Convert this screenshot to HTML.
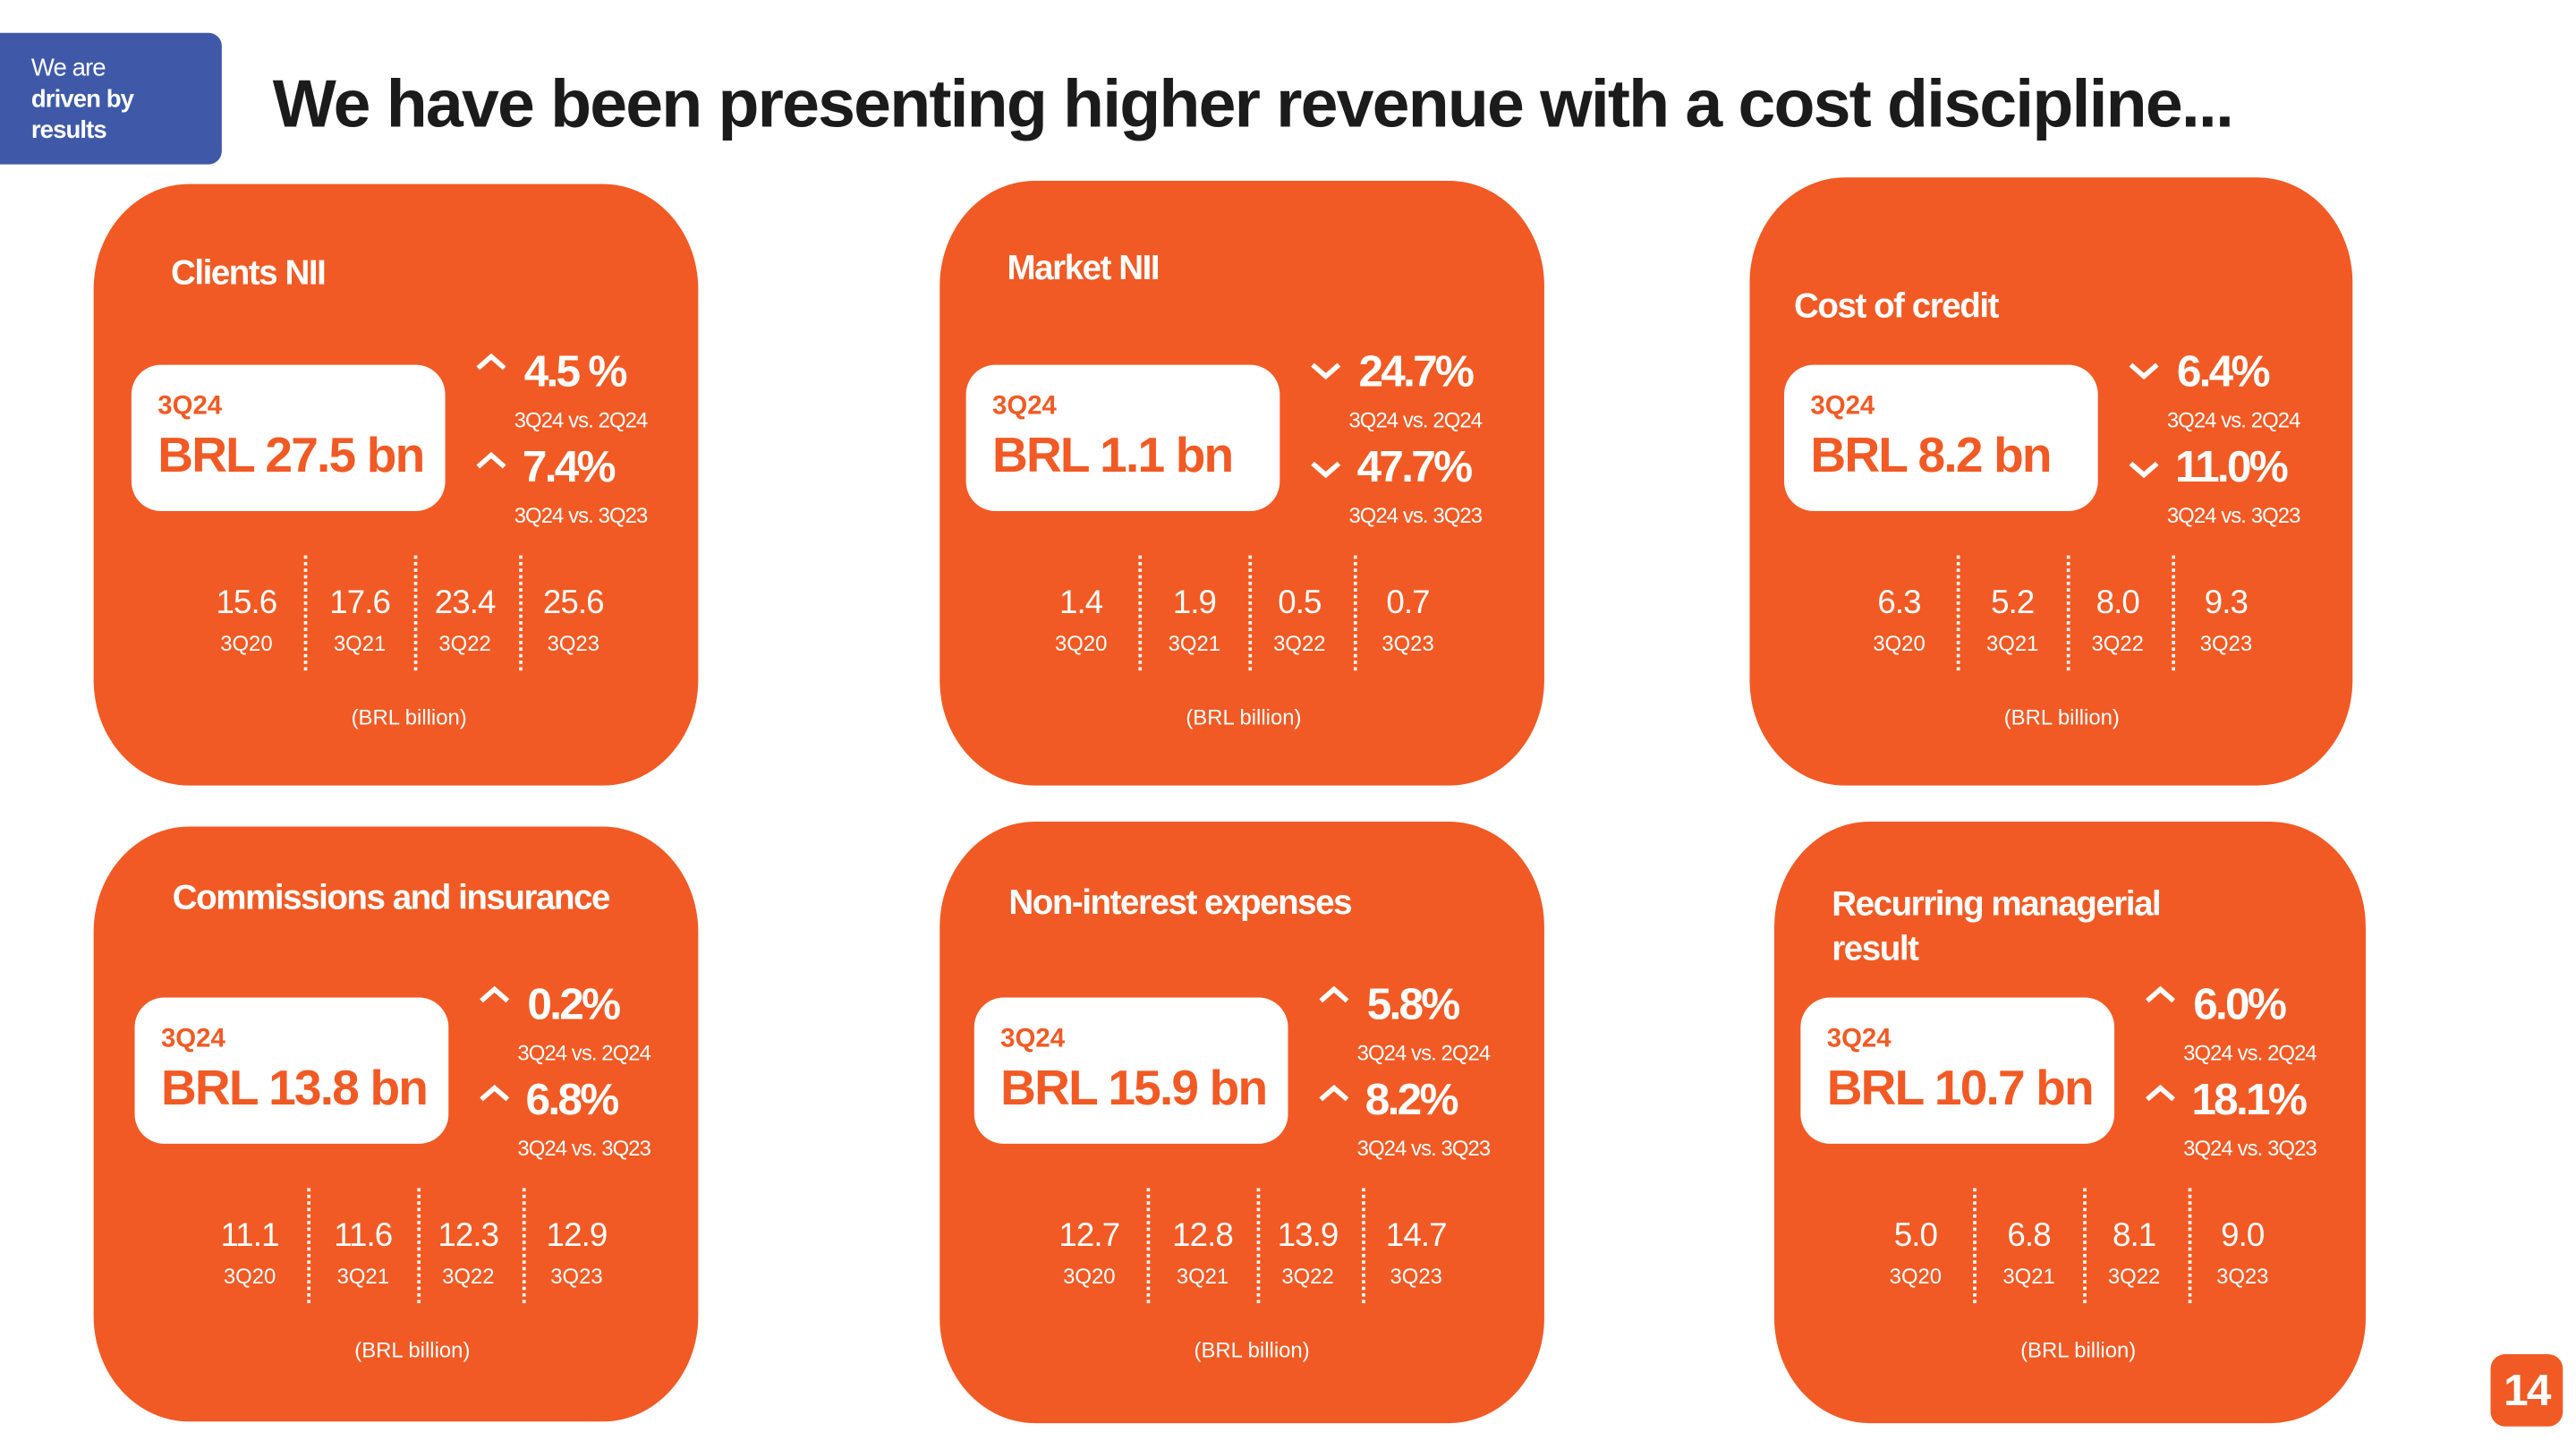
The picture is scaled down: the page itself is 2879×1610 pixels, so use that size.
<!DOCTYPE html>
<html><head><meta charset="utf-8">
<style>
html,body{margin:0;padding:0;background:#fff;}
body{width:2879px;height:1610px;overflow:hidden;position:relative;font-family:"Liberation Sans",sans-serif;}
#stage{position:absolute;left:0;top:0;width:1568px;height:877px;transform:scale(1.8361);transform-origin:0 0;}
.abs{position:absolute;white-space:nowrap;}
.card{position:absolute;background:#F15A24;border-radius:58px/64px;}
.title{position:absolute;color:#fff;font-weight:bold;font-size:21px;letter-spacing:-0.8px;line-height:27px;}
.box{position:absolute;width:191px;height:89px;background:#fff;border-radius:18px;}
.q{position:absolute;left:16px;top:17px;color:#F15A24;font-weight:bold;font-size:16px;}
.big{position:absolute;left:16px;top:39px;color:#F15A24;font-weight:bold;font-size:30px;letter-spacing:-1px;}
.pct{position:absolute;color:#fff;font-weight:bold;font-size:27px;letter-spacing:-1.5px;}
.sub{position:absolute;color:#fff;font-size:13px;letter-spacing:-0.5px;}
.val{position:absolute;color:#fff;font-size:20px;width:70px;text-align:center;letter-spacing:-0.5px;}
.lab{position:absolute;color:#fff;font-size:13px;width:70px;text-align:center;}
.sep{position:absolute;width:0;border-left:2px dotted #fff;height:70px;}
.unit{position:absolute;color:#fff;font-size:13px;width:120px;text-align:center;}
</style></head>
<body>
<div id="stage">
  <div class="abs" style="left:0;top:20px;width:135px;height:80px;background:#3F59A8;border-radius:0 8px 8px 0;">
    <div class="abs" style="left:19px;top:12px;color:#fff;font-size:15px;line-height:19px;letter-spacing:-0.5px;">We are<br><b>driven by<br>results</b></div>
  </div>
  <div class="abs" style="left:166px;top:40px;font-size:41px;font-weight:bold;color:#1b1b1b;letter-spacing:-1px;">We have been presenting higher revenue with a cost discipline...</div>
  <div class="abs" style="left:1516px;top:824px;width:44px;height:44px;background:#F15A24;border-radius:9px;color:#fff;font-weight:bold;font-size:27px;text-align:center;line-height:44px;letter-spacing:-1px;">14</div>
</div>
<script>
const titles = ["Clients NII","Market NII","Cost of credit","Commissions and insurance","Non-interest expenses","Recurring managerial<br>result"];
const currentValues = ["BRL 27.5 bn","BRL 1.1 bn","BRL 8.2 bn","BRL 13.8 bn","BRL 15.9 bn","BRL 10.7 bn"];
const qoqChange = ["4.5 %","24.7%","6.4%","0.2%","5.8%","6.0%"];
const yoyChange = ["7.4%","47.7%","11.0%","6.8%","8.2%","18.1%"];
const direction = ["up","down","down","up","up","up"];
const periods = ["3Q20","3Q21","3Q22","3Q23"];
const history = [
  ["15.6","17.6","23.4","25.6"],
  ["1.4","1.9","0.5","0.7"],
  ["6.3","5.2","8.0","9.3"],
  ["11.1","11.6","12.3","12.9"],
  ["12.7","12.8","13.9","14.7"],
  ["5.0","6.8","8.1","9.0"]
];
const cardNames = ["clients-nii","market-nii","cost-of-credit","commissions-insurance","non-interest-expenses","recurring-managerial-result"];

// layout (not data)
const cardGeo = [[57,112,368,366],[572,110,368,368],[1065,108,367,370],[57,503,368,362],[572,500,368,366],[1080,500,360,366]];
const titleGeo = [[104,153],[613,150],[1092,173],[105,533],[614,536],[1115,537]];
const boxGeo = [[80,222],[588,222],[1086,222],[82,607],[593,607],[1096,607]];
const colOff = [70,139,203,269];
const sepOff = [105,172,236];

const stage = document.getElementById('stage');
function mk(cls, parent){const e=document.createElement('div');e.className=cls;parent.appendChild(e);return e;}
function caret(x,y,dir){
  const ns='http://www.w3.org/2000/svg';
  const s=document.createElementNS(ns,'svg');
  s.setAttribute('width','20');s.setAttribute('height','12');
  s.style.position='absolute';s.style.left=x+'px';s.style.top=y+'px';
  const p=document.createElementNS(ns,'path');
  p.setAttribute('d',dir==='up'?'M2 10 L10 3 L18 10':'M2 2 L10 9 L18 2');
  p.setAttribute('stroke','#fff');p.setAttribute('stroke-width','3');p.setAttribute('fill','none');
  s.appendChild(p);stage.appendChild(s);
  return s;
}
for(let i=0;i<6;i++){
  const [cx,cy,cw,ch]=cardGeo[i];
  const c=mk('card',stage);
  
  
  c.style.left=cx+'px';c.style.top=cy+'px';c.style.width=cw+'px';c.style.height=ch+'px';
  const t=mk('title',stage);
  
  
  t.innerHTML=titles[i];t.style.left=titleGeo[i][0]+'px';t.style.top=titleGeo[i][1]+'px';
  const [bx,by]=boxGeo[i];
  const b=mk('box',stage);
  
  
  b.style.left=bx+'px';b.style.top=by+'px';
  const q=mk('q',b);q.textContent='3Q24';
  const v=mk('big',b);
  
  
  v.textContent=currentValues[i];
  const c1=caret(bx+209,by-6+(direction[i]==='up'?-2:4),direction[i]);
  
  
  const p1=mk('pct',stage);
  
  
  p1.textContent=qoqChange[i];p1.style.left=(bx+239)+'px';p1.style.top=(by-11)+'px';
  const s1=mk('sub',stage);s1.textContent='3Q24 vs. 2Q24';s1.style.left=(bx+233)+'px';s1.style.top=(by+26)+'px';
  const c2=caret(bx+209,by+52+(direction[i]==='up'?0:6),direction[i]);
  
  
  const p2=mk('pct',stage);
  
  
  p2.textContent=yoyChange[i];p2.style.left=(bx+238)+'px';p2.style.top=(by+47)+'px';
  const s2=mk('sub',stage);s2.textContent='3Q24 vs. 3Q23';s2.style.left=(bx+233)+'px';s2.style.top=(by+84)+'px';
  for(let k=0;k<4;k++){
    const hv=mk('val',stage);
    
    
    hv.textContent=history[i][k];hv.style.left=(bx+colOff[k]-35)+'px';hv.style.top=(by+134)+'px';
    const hl=mk('lab',stage);
    
    
    hl.textContent=periods[k];hl.style.left=(bx+colOff[k]-35)+'px';hl.style.top=(by+162)+'px';
  }
  for(let k=0;k<3;k++){
    const sp=mk('sep',stage);
    
    
    sp.style.left=(bx+sepOff[k])+'px';sp.style.top=(by+116)+'px';
  }
  const u=mk('unit',stage);
  
  
  u.textContent='(BRL billion)';u.style.left=(bx+109)+'px';u.style.top=(by+207)+'px';
}
</script>
</body></html>
